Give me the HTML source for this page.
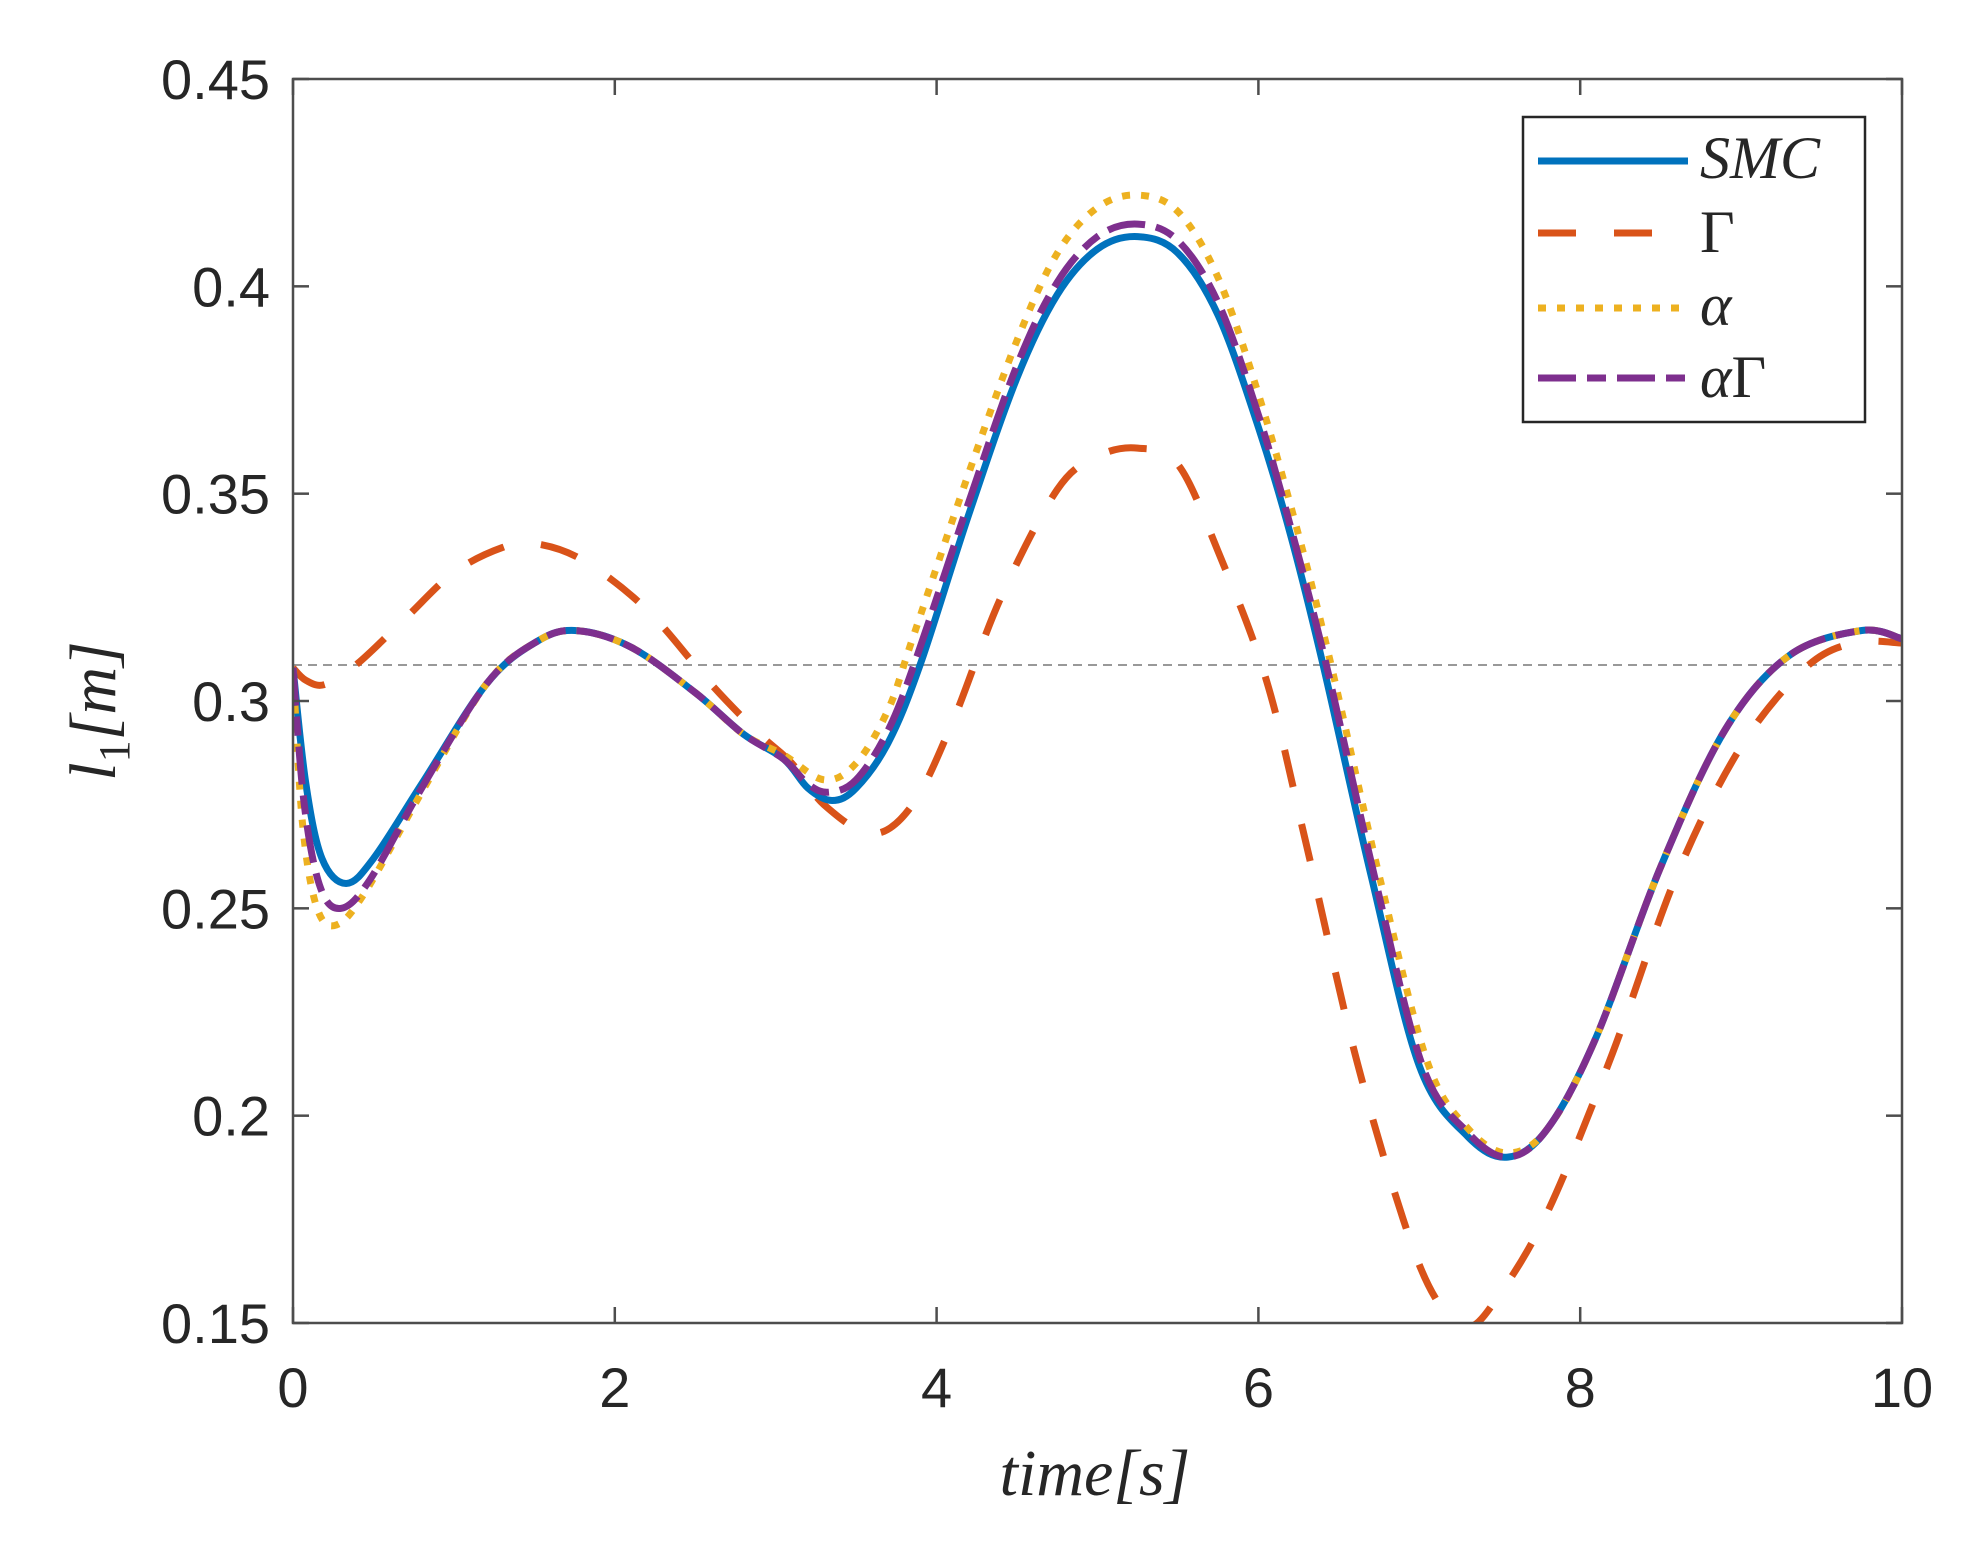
<!DOCTYPE html>
<html><head><meta charset="utf-8"><style>
html,body{margin:0;padding:0;background:#fff;}
svg{display:block;}
</style></head><body>
<svg id="s" width="1988" height="1564" viewBox="0 0 1988 1564" xmlns="http://www.w3.org/2000/svg">
<rect x="0" y="0" width="1988" height="1564" fill="#fff"/>
<defs><clipPath id="c"><rect x="293" y="79" width="1609" height="1244"/></clipPath></defs>
<line x1="293" y1="665" x2="1902" y2="665" stroke="#999" stroke-width="2" stroke-dasharray="9,6"/>
<g id="curves" clip-path="url(#c)" fill="none" stroke-linejoin="round"></g>
<rect x="293" y="79" width="1609" height="1244" fill="none" stroke="#4d4d4d" stroke-width="2.5"/>
<g id="ticks" stroke="#4d4d4d" stroke-width="2.5"></g>
<g font-family="Liberation Sans, sans-serif" font-size="56" fill="#262626" id="lab"></g>
<text x="1095" y="1495" font-family="Liberation Serif, serif" font-style="italic" font-size="66" text-anchor="middle" fill="#262626">time[s]</text>
<text transform="translate(115,711) rotate(-90)" font-family="Liberation Serif, serif" font-style="italic" font-size="66" text-anchor="middle" fill="#262626">l<tspan font-style="normal" font-size="44" dy="14">1</tspan><tspan dy="-14">[m]</tspan></text>
<rect x="1523" y="117" width="342" height="305" fill="#fff" stroke="#262626" stroke-width="2.5"/>
<line x1="1538" y1="161" x2="1688" y2="161" stroke="#0072BD" stroke-width="7"/>
<line x1="1538" y1="233" x2="1688" y2="233" stroke="#D95319" stroke-width="7" stroke-dasharray="38,38"/>
<line x1="1538" y1="308" x2="1688" y2="308" stroke="#EDB120" stroke-width="7" stroke-dasharray="8,11"/>
<line x1="1538" y1="378" x2="1688" y2="378" stroke="#7E2F8E" stroke-width="7" stroke-dasharray="38,11,19,11"/>
<g font-family="Liberation Serif, serif" font-size="60" fill="#262626">
<text x="1700" y="178" font-style="italic">SMC</text>
<text x="1700" y="252">Γ</text>
<text x="1700" y="325" font-style="italic">α</text>
<text x="1700" y="397"><tspan font-style="italic">α</tspan>Γ</text>
</g>
</svg>
<script>
const X=t=>293+t*160.9, Y=v=>79+(0.45-v)*4146.7;
const NS="http://www.w3.org/2000/svg";
function path(pts){
 let d="M"+X(pts[0][0]).toFixed(1)+","+Y(pts[0][1]).toFixed(1);
 for(let i=0;i<pts.length-1;i++){
  const p0=pts[Math.max(0,i-1)],p1=pts[i],p2=pts[i+1],p3=pts[Math.min(pts.length-1,i+2)];
  const P=p=>[X(p[0]),Y(p[1])];
  const a=P(p0),b=P(p1),c=P(p2),e=P(p3);
  const c1=[b[0]+(c[0]-a[0])/6,b[1]+(c[1]-a[1])/6],c2=[c[0]-(e[0]-b[0])/6,c[1]-(e[1]-b[1])/6];
  d+="C"+c1.map(v=>v.toFixed(1))+" "+c2.map(v=>v.toFixed(1))+" "+c.map(v=>v.toFixed(1));
 }
 return d;
}
const smc=[[0,0.308],[0.08,0.28],[0.18,0.262],[0.33,0.256],[0.5,0.262],[0.8,0.28],[1.2,0.304],[1.5,0.314],[1.75,0.317],[2.1,0.313],[2.5,0.302],[2.8,0.292],[3.05,0.286],[3.2,0.279],[3.35,0.276],[3.5,0.279],[3.7,0.29],[3.9,0.309],[4.2,0.345],[4.5,0.378],[4.75,0.398],[5.0,0.409],[5.25,0.412],[5.5,0.408],[5.75,0.393],[6.0,0.366],[6.2,0.340],[6.4,0.309],[6.7,0.258],[7.0,0.212],[7.3,0.195],[7.55,0.190],[7.8,0.197],[8.1,0.219],[8.5,0.26],[8.9,0.293],[9.3,0.311],[9.75,0.317],[10,0.315]];
const alp=[[0,0.308],[0.06,0.27],[0.15,0.25],[0.27,0.246],[0.45,0.254],[0.8,0.278],[1.2,0.304],[1.5,0.314],[1.75,0.317],[2.1,0.313],[2.5,0.302],[2.8,0.292],[3.05,0.287],[3.3,0.281],[3.5,0.285],[3.7,0.298],[3.85,0.315],[4.2,0.355],[4.5,0.387],[4.75,0.408],[5.0,0.419],[5.25,0.422],[5.5,0.418],[5.75,0.402],[6.0,0.374],[6.25,0.340],[6.45,0.309],[6.75,0.258],[7.05,0.213],[7.3,0.197],[7.55,0.191],[7.8,0.197],[8.1,0.219],[8.5,0.26],[8.9,0.293],[9.3,0.311],[9.75,0.317],[10,0.315]];
const ag=[[0,0.308],[0.07,0.275],[0.17,0.255],[0.3,0.250],[0.48,0.257],[0.8,0.279],[1.2,0.304],[1.5,0.314],[1.75,0.317],[2.1,0.313],[2.5,0.302],[2.8,0.292],[3.05,0.286],[3.2,0.28],[3.33,0.278],[3.5,0.281],[3.7,0.293],[3.88,0.311],[4.2,0.348],[4.5,0.381],[4.75,0.401],[5.0,0.412],[5.25,0.415],[5.5,0.411],[5.75,0.396],[6.0,0.369],[6.2,0.342],[6.42,0.309],[6.72,0.258],[7.02,0.212],[7.3,0.196],[7.55,0.19],[7.8,0.197],[8.1,0.219],[8.5,0.26],[8.9,0.293],[9.3,0.311],[9.75,0.317],[10,0.315]];
const gam=[[0,0.308],[0.08,0.305],[0.2,0.304],[0.4,0.309],[0.7,0.320],[1.0,0.331],[1.3,0.337],[1.5,0.338],[1.8,0.334],[2.2,0.322],[2.6,0.304],[2.9,0.292],[3.1,0.285],[3.3,0.275],[3.6,0.268],[3.85,0.275],[4.1,0.295],[4.4,0.325],[4.75,0.351],[5.0,0.359],[5.25,0.361],[5.5,0.357],[5.75,0.336],[6.05,0.305],[6.3,0.265],[6.6,0.215],[6.9,0.175],[7.1,0.156],[7.3,0.149],[7.5,0.157],[7.8,0.177],[8.2,0.215],[8.6,0.258],[9.0,0.289],[9.4,0.308],[9.7,0.314],[10,0.314]];
const g=document.getElementById("curves");
function add(pts,col,dash){const p=document.createElementNS(NS,"path");p.setAttribute("d",path(pts));p.setAttribute("stroke",col);p.setAttribute("stroke-width","7");if(dash)p.setAttribute("stroke-dasharray",dash);g.appendChild(p);}
add(gam,"#D95319","38,38");
add(smc,"#0072BD");
add(alp,"#EDB120","8,11");
add(ag,"#7E2F8E","38,11,19,11");
const tk=document.getElementById("ticks"),lab=document.getElementById("lab");
function ln(a,b,c,d){const l=document.createElementNS(NS,"line");l.setAttribute("x1",a);l.setAttribute("y1",b);l.setAttribute("x2",c);l.setAttribute("y2",d);tk.appendChild(l);}
function tx(x,y,s,anc){const t=document.createElementNS(NS,"text");t.setAttribute("x",x);t.setAttribute("y",y);t.setAttribute("text-anchor",anc);t.textContent=s;lab.appendChild(t);}
for(let t=0;t<=10;t+=2){const x=X(t);ln(x,1323,x,1307);ln(x,79,x,95);tx(x,1407,String(t),"middle");}
["0.15","0.2","0.25","0.3","0.35","0.4","0.45"].forEach(s=>{const y=Y(parseFloat(s));ln(293,y,309,y);ln(1902,y,1886,y);tx(270,y+20,s,"end");});
</script>
</body></html>
